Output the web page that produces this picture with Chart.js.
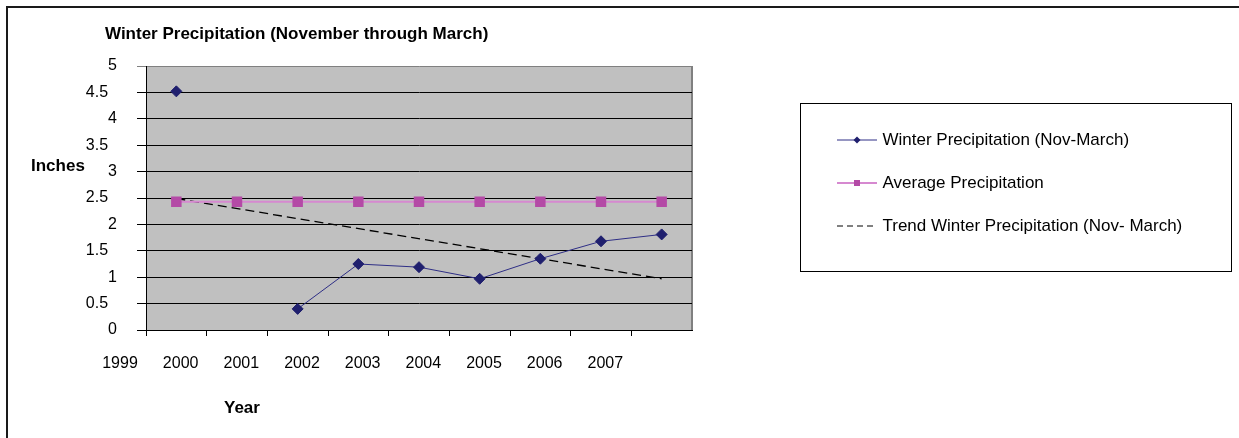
<!DOCTYPE html>
<html>
<head>
<meta charset="utf-8">
<script src="https://cdn.jsdelivr.net/npm/chart.js@4.4.1/dist/chart.umd.min.js"></script>
<style>
  html, body { margin: 0; padding: 0; background: #fff; overflow: hidden; }
  #frame { position: absolute; left: 6px; top: 6px; width: 1250px; height: 450px; border-top: 2px solid #1a1a1a; border-left: 2px solid #1a1a1a; }
  #wrap { position: absolute; left: 0; top: 0; width: 1239px; height: 438px; }
  .cap { position: absolute; font: bold 17px "Liberation Sans", Arial, sans-serif; color: #000; white-space: nowrap; line-height: 20px; }
</style>
</head>
<body>
<div id="frame"></div>
<div id="wrap"><canvas id="grafico"></canvas></div>
<div class="cap" style="left:31px; top:156px;">Inches</div>
<div class="cap" style="left:224px; top:398px;">Year</div>
<script>
// valores
const pointYears = [2000, 2001, 2002, 2003, 2004, 2005, 2006, 2007, 2008];
const yearLabels = ['1999', '2000', '2001', '2002', '2003', '2004', '2005', '2006', '2007'];
const winterPrecip = [4.52, null, 0.40, 1.25, 1.19, 0.97, 1.35, 1.68, 1.81];
const averagePrecip = [2.43, 2.43, 2.43, 2.43, 2.43, 2.43, 2.43, 2.43, 2.43];
const trendYears = [2000, 2008];
const trendValues = [2.49, 0.97];

const fonte = '"Liberation Sans", Arial, sans-serif';

function amostraLegenda(corLinha, larguraLinha, corMarca, forma, tracejado) {
    const c = document.createElement('canvas');
    c.width = 40;
    c.height = 12;
    const g = c.getContext('2d');
    g.strokeStyle = corLinha;
    g.lineWidth = larguraLinha;
    if (tracejado) g.setLineDash(tracejado);
    g.beginPath();
    g.moveTo(0, 6);
    g.lineTo(40, 6);
    g.stroke();
    g.fillStyle = corMarca;
    if (forma == 'losango') {
        g.beginPath();
        g.moveTo(20, 2.5); g.lineTo(23.5, 6); g.lineTo(20, 9.5); g.lineTo(16.5, 6);
        g.closePath();
        g.fill();
    } else if (forma == 'quadrado') {
        g.fillRect(17, 3, 6, 6);
    }
    return c;
}

const amostras = [
    amostraLegenda('#2E2E86', 1, '#1F1F6E', 'losango'),
    amostraLegenda('#D689D0', 2, '#B44AA6', 'quadrado'),
    amostraLegenda('#000000', 1, null, null, [6, 4])
];

const fundoPlot = {
    id: 'fundoPlot',
    beforeDraw(chart) {
        const { ctx, chartArea: a } = chart;
        ctx.save();
        ctx.fillStyle = '#C0C0C0';
        ctx.fillRect(a.left, a.top, a.width, a.height);
        ctx.strokeStyle = '#808080';
        ctx.lineWidth = 2;
        ctx.beginPath();
        ctx.moveTo(a.right, a.top);
        ctx.lineTo(a.right, a.bottom);
        ctx.stroke();
        ctx.restore();
    }
};

const caixaLegenda = {
    id: 'caixaLegenda',
    afterLayout(chart) {
        // o eixo y ocupa so 41px, mas os rotulos passam disso
        chart.scales.y.left = 20;

        const lg = chart.legend;
        lg.left = 814;
        lg.top = 105.5;
        lg.width = 418;
        lg.height = 160;
        lg.right = lg.left + lg.width;
        lg.bottom = lg.top + lg.height;
    },
    afterDraw(chart) {
        const ctx = chart.ctx;
        ctx.save();
        ctx.strokeStyle = '#000';
        ctx.lineWidth = 1;
        ctx.strokeRect(800.5, 103.5, 431, 168);
        ctx.restore();
    }
};

const ctx = document.getElementById('grafico');

new Chart(ctx, {
    type: 'line',
    data: {
        datasets: [
            {
                label: 'Winter Precipitation (Nov-March)',
                data: winterPrecip.map((v, i) => ({ x: pointYears[i], y: v })),
                borderColor: '#2E2E86',
                borderWidth: 1,
                pointStyle: 'rectRot',
                pointRadius: 5.5,
                pointBackgroundColor: '#1F1F6E',
                pointBorderColor: '#1F1F6E',
                spanGaps: false
            },
            {
                label: 'Average Precipitation',
                data: averagePrecip.map((v, i) => ({ x: pointYears[i], y: v })),
                borderColor: '#D689D0',
                borderWidth: 2,
                pointStyle: 'rect',
                pointRadius: 6,
                pointBackgroundColor: '#B44AA6',
                pointBorderColor: '#B44AA6'
            },
            {
                label: 'Trend Winter Precipitation (Nov- March)',
                data: trendValues.map((v, i) => ({ x: trendYears[i], y: v })),
                borderColor: '#000',
                borderWidth: 1.3,
                borderDash: [9, 5],
                pointRadius: 0
            }
        ]
    },
    options: {
        responsive: true,
        maintainAspectRatio: false,
        animation: false,
        layout: {
            padding: { left: 105, right: 547, top: 0, bottom: 58 }
        },
        scales: {
            x: {
                type: 'linear',
                min: 1999.5,
                max: 2008.5,
                afterBuildTicks: scale => {
                    scale.ticks = yearLabels.map((_, i) => ({ value: 1999.5 + i }));
                },
                afterFit: scale => { scale.height = 50; },
                ticks: {
                    callback: (v, i) => yearLabels[i],
                    labelOffset: -26,
                    padding: 18,
                    autoSkip: false,
                    maxRotation: 0,
                    color: '#000',
                    font: { size: 16, family: fonte }
                },
                grid: {
                    drawOnChartArea: false,
                    tickLength: 6,
                    color: '#000'
                },
                border: { display: true, color: '#000' }
            },
            y: {
                min: 0,
                max: 5,
                afterFit: scale => { scale.width = 41; },
                ticks: {
                    stepSize: 0.5,
                    padding: 20,
                    color: '#000',
                    font: { size: 16, family: fonte },
                    callback: v => Number.isInteger(v) ? String(v) : v + '\u2007'
                },
                grid: {
                    tickLength: 9,
                    color: c => (c.tick && c.tick.value === 5) ? '#808080' : '#000'
                },
                border: { display: true, color: '#000' }
            }
        },
        plugins: {
            title: {
                display: true,
                text: 'Winter Precipitation (November through March)',
                align: 'start',
                color: '#000',
                font: { size: 17, weight: 'bold', family: fonte },
                padding: { top: 24, bottom: 21.6 }
            },
            legend: {
                position: 'chartArea',
                align: 'start',
                labels: {
                    usePointStyle: true,
                    pointStyleWidth: 34,
                    boxHeight: 12,
                    padding: 26,
                    color: '#000',
                    font: { size: 17, family: fonte },
                    generateLabels: chart => chart.data.datasets.map((ds, i) => ({
                        text: ds.label,
                        pointStyle: amostras[i],
                        datasetIndex: i,
                        fontColor: '#000',
                        lineWidth: 0,
                        hidden: false
                    }))
                }
            },
            tooltip: { enabled: false }
        }
    },
    plugins: [fundoPlot, caixaLegenda]
});
</script>
</body>
</html>
